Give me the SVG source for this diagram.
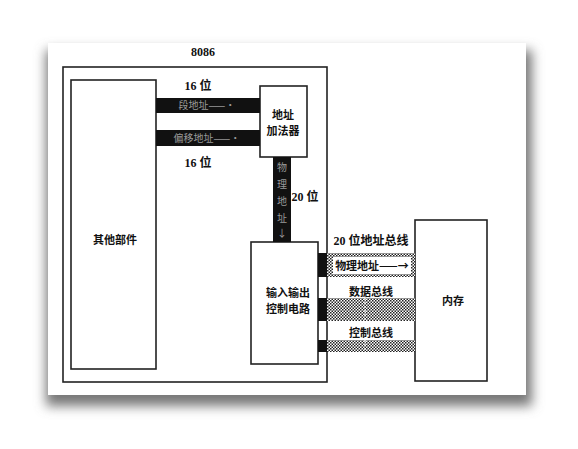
<svg xmlns="http://www.w3.org/2000/svg" width="578" height="449" viewBox="0 0 578 449">
<defs>
<filter id="sh" x="-10%" y="-10%" width="120%" height="130%"><feGaussianBlur stdDeviation="6"/></filter>
<pattern id="chk" width="3" height="3" patternUnits="userSpaceOnUse"><rect width="3" height="3" fill="#fff"/><rect width="1.5" height="1.5" fill="#222"/><rect x="1.5" y="1.5" width="1.5" height="1.5" fill="#222"/></pattern>
<style>
.box{fill:#fff;stroke:#222;stroke-width:1.6}
.t{font-family:"Liberation Serif","Noto Sans CJK SC",serif;font-size:12px;fill:#111;text-anchor:middle;font-weight:bold}
.c{font-family:"Noto Sans CJK SC",sans-serif;font-size:11px;fill:#111;text-anchor:middle;font-weight:bold}
.g{font-family:"Noto Sans CJK SC",sans-serif;font-size:10px;fill:#999;text-anchor:middle}
.bar{fill:#111}
</style>
</defs>
<rect width="578" height="449" fill="#fff"/>
<rect x="46" y="50" width="486" height="356" fill="#777" filter="url(#sh)"/>
<rect x="48" y="43" width="478" height="352" fill="#fff"/>
<text class="t" x="203" y="56">8086</text>
<g id="cpu"><rect class="box" x="63" y="67" width="264" height="315"/></g>
<g id="other"><rect class="box" x="71" y="80" width="85" height="289"/><text class="c" x="115" y="244">其他部件</text></g>
<g id="adder"><rect class="box" x="260" y="86" width="47" height="71"/><text class="c" x="283" y="119">地址</text><text class="c" x="283" y="135">加法器</text></g>
<g id="io"><rect class="box" x="251" y="242" width="67" height="122"/><text class="c" x="288" y="297">输入输出</text><text class="c" x="288" y="313">控制电路</text></g>
<g id="mem"><rect class="box" x="415" y="220" width="72" height="161"/><text class="c" x="453" y="305">内存</text></g>
<g id="connectors">
<rect class="bar" x="156" y="98" width="104" height="15"/>
<text class="g" x="207" y="109">段地址——·</text>
<text class="t" x="198" y="90">16 位</text>
<rect class="bar" x="156" y="130" width="104" height="16"/>
<text class="g" x="207" y="142">偏移地址——·</text>
<text class="t" x="198" y="167">16 位</text>
<rect class="bar" x="273" y="157" width="18" height="85"/>
<text class="g" x="282" y="171">物</text>
<text class="g" x="282" y="188">理</text>
<text class="g" x="282" y="205">地</text>
<text class="g" x="282" y="222">址</text>
<text class="g" x="282" y="237">↓</text>
<text class="t" x="305" y="201">20 位</text>
<rect class="bar" x="318" y="253" width="9" height="24"/>
<rect x="327" y="253" width="88" height="24" fill="url(#chk)"/>
<rect x="333" y="257" width="78" height="17" fill="#fff"/>
<text class="c" x="372" y="270">物理地址——→</text>
<text class="t" x="371" y="245">20 位地址总线</text>
<rect class="bar" x="318" y="298" width="9" height="23"/>
<rect x="327" y="298" width="88" height="23" fill="url(#chk)"/>
<line x1="365" y1="298" x2="365" y2="321" stroke="#fff" stroke-width="1.2" stroke-dasharray="2,2"/>
<text class="c" x="371" y="296">数据总线</text>
<rect class="bar" x="318" y="340" width="9" height="12"/>
<rect x="327" y="340" width="88" height="12" fill="url(#chk)"/>
<line x1="365" y1="340" x2="365" y2="352" stroke="#fff" stroke-width="1.2" stroke-dasharray="2,2"/>
<text class="c" x="371" y="337">控制总线</text>
</g>
</svg>
